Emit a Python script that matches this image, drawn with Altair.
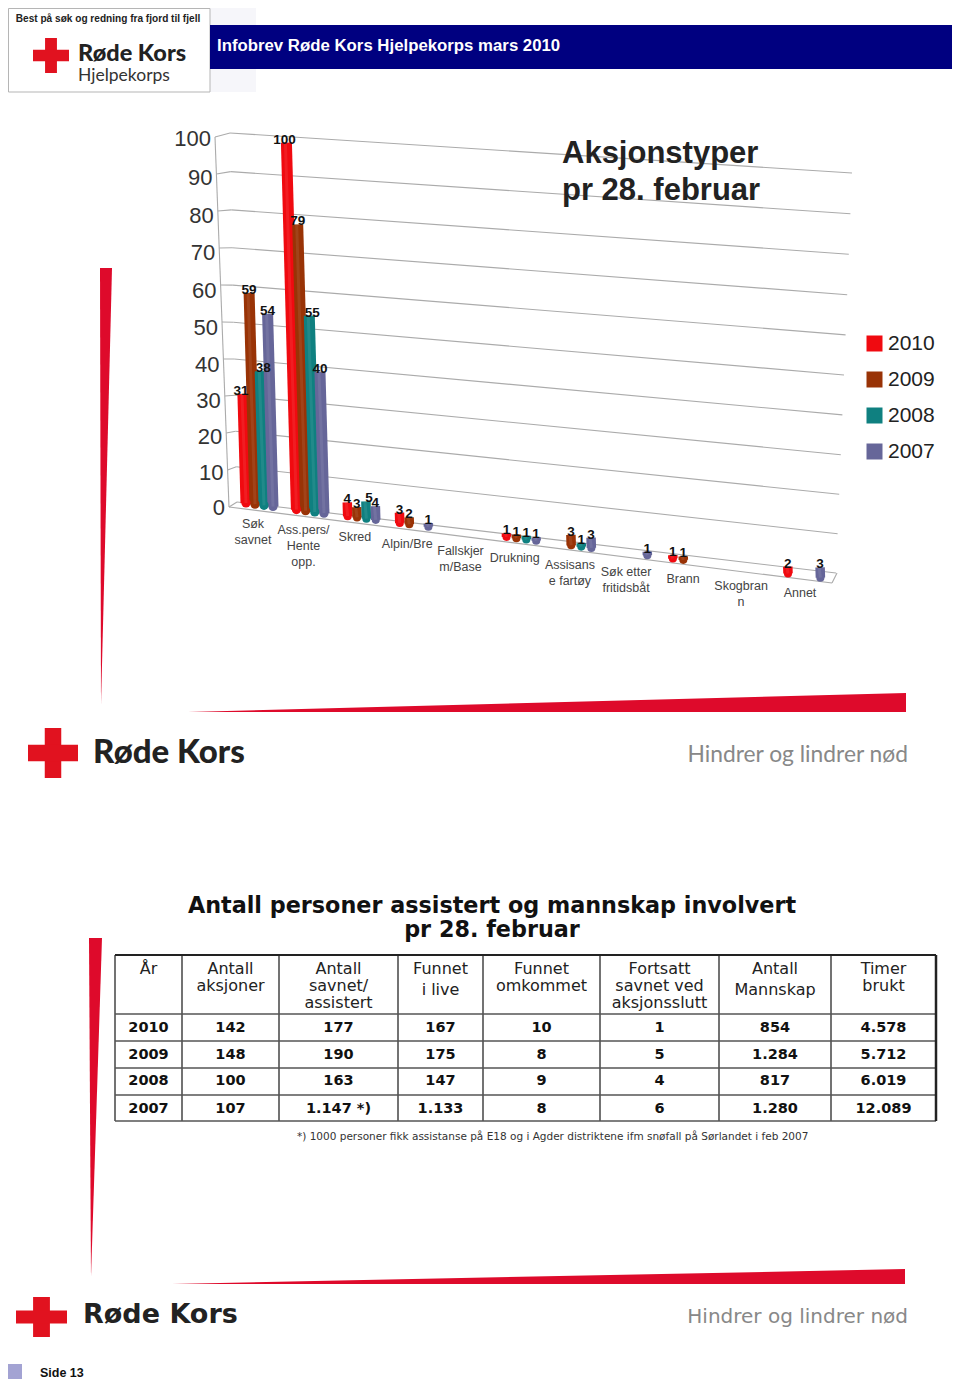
import altair as alt
import pandas as pd

# ---- chart data
categories = ["Søk\nsavnet", "Ass.pers/\nHente\nopp.", "Skred", "Alpin/Bre", "Fallskjer\nm/Base", "Drukning",
              "Assisans\ne fartøy", "Søk etter\nfritidsbåt", "Brann", "Skogbran\nn", "Annet"]
years = ["2010", "2009", "2008", "2007"]
v2010 = [31, 100, 4, 3, None, 1, None, None, 1, None, 2]
v2009 = [59, 79, 3, 2, None, 1, 3, None, 1, None, None]
v2008 = [38, 55, 5, None, None, 1, 1, None, None, None, None]
v2007 = [54, 40, 4, 1, None, 1, 3, 1, None, None, 3]
series_colors = ["#F00A10", "#993306", "#0F8080", "#666699"]
y_ticks = [0, 10, 20, 30, 40, 50, 60, 70, 80, 90, 100]

# ---- table data
table_head = [["År"], ["Antall", "aksjoner"], ["Antall", "savnet/", "assistert"], ["Funnet", "i live"],
              ["Funnet", "omkommet"], ["Fortsatt", "savnet ved", "aksjonsslutt"], ["Antall", "Mannskap"], ["Timer", "brukt"]]
table_rows = [
    ["2010", "142", "177", "167", "10", "1", "854", "4.578"],
    ["2009", "148", "190", "175", "8", "5", "1.284", "5.712"],
    ["2008", "100", "163", "147", "9", "4", "817", "6.019"],
    ["2007", "107", "1.147 *)", "1.133", "8", "6", "1.280", "12.089"],
]
col_edges = [115, 182, 279, 398, 483, 600, 719, 831, 936]
row_edges = [955, 1014, 1041, 1068, 1095, 1121]
row_centers = [1028, 1055, 1081, 1109]
footnote = "*) 1000 personer fikk assistanse på E18 og i Agder distriktene ifm snøfall på Sørlandet i feb 2007"

W, H = 944, 1371
xs = alt.Scale(domain=[8, 952], range=[0, W], nice=False, zero=False)
ys = alt.Scale(domain=[8, 1379], range=[0, H], nice=False, zero=False)
X = alt.X("x:Q", scale=xs, axis=None)
Y = alt.Y("y:Q", scale=ys, axis=None)
X2 = alt.X2("x2:Q")
Y2 = alt.Y2("y2:Q")


def text_layer(rows, **mark):
    df = pd.DataFrame(rows, columns=["x", "y", "t"])
    return alt.Chart(df).mark_text(**mark).encode(x=X, y=Y, text="t:N")


def rect_layer(rows, color, **mark):
    df = pd.DataFrame(rows, columns=["x", "x2", "y", "y2"])
    return alt.Chart(df).mark_rect(color=color, **mark).encode(x=X, x2=X2, y=Y, y2=Y2)


def rule_layer(rows, color, width):
    df = pd.DataFrame(rows, columns=["x", "y", "x2", "y2"])
    return alt.Chart(df).mark_rule(color=color, strokeWidth=width).encode(x=X, y=Y, x2=X2, y2=Y2)


def cross(x0, x1, y0, y1, color="#E1121F"):
    cx, cy = (x0 + x1) / 2, (y0 + y1) / 2
    tx, ty = (x1 - x0) * 0.165, (y1 - y0) * 0.165
    return rect_layer([[cx - tx, cx + tx, y0, y1], [x0, x1, cy - ty, cy + ty]], color)


def wedge_h(tip_x, right_x, y_top, y_bot):
    df = pd.DataFrame({"x": [tip_x, right_x], "y": [y_bot, y_top], "y2": [y_bot, y_bot]})
    return alt.Chart(df).mark_area(color="#DE0A2B", orient="vertical").encode(x=X, y=Y, y2=Y2)


def wedge_v(y_top, y_tip, x0, x1, x_tip):
    df = pd.DataFrame({"y": [y_top, y_tip], "x": [x0, x_tip], "x2": [x1, x_tip]})
    return alt.Chart(df).mark_area(color="#DE0A2B", orient="horizontal").encode(y=Y, x=X, x2=X2)


# ---- 3-D projection of the Excel chart
def gridline_rows():
    rows = []
    for v in y_ticks:
        lx, ly = 229 - 0.14 * v, 507 - 3.7 * v
        bx, by = 237 - 0.07 * v, 502 - 3.5 * v - 0.0019 * v * v
        rx, ry = 836 + 0.16 * v, 573 - 3.92 * v - 0.0008 * v * v
        rows += [[lx, ly, bx, by], [bx, by, rx, ry]]
    rows.append([lx, ly, 229, 507])
    rows += [[229, 507, 832, 583], [832, 583, 837, 573]]
    return rows


records = []
label_nudge = [-2, 0, 3, 0]
for s, (year, vals) in enumerate(zip(years, [v2010, v2009, v2008, v2007])):
    for g, v in enumerate(vals):
        if v is None:
            continue
        bx = 246 + 50 * g + 0.42 * g * g + s * (9 + 0.18 * g)
        by = 503 + (bx - 246) * 0.13
        tx, ty = bx - 0.1 * v, by - (3.45 * v + 0.0022 * v * v)
        nudge = label_nudge[s] if v >= 5 else 0
        records.append({"year": year, "v": v, "x": tx, "y": ty, "x2": bx, "y2": by,
                        "lx": tx + nudge, "ly": ty - 3, "w": 11 if g < 2 else 9.5, "f": 85 if g < 2 else 66})
bars = pd.DataFrame(records)
color_scale = alt.Scale(domain=years, range=series_colors)

bar_rules = alt.Chart(bars).mark_rule(strokeCap="butt").encode(
    x=X, y=Y, x2=X2, y2=Y2, color=alt.Color("year:N", scale=color_scale, legend=None),
    strokeWidth=alt.StrokeWidth("w:Q", scale=None, legend=None))
bar_shine = alt.Chart(bars).mark_rule(strokeWidth=3, color="#ffffff", opacity=0.08, xOffset=-1).encode(
    x=X, y=Y, x2=X2, y2=Y2)
bar_feet = alt.Chart(bars).mark_point(filled=True, shape="circle", opacity=1).encode(
    x=alt.X("x2:Q", scale=xs, axis=None), y=alt.Y("y2:Q", scale=ys, axis=None),
    size=alt.Size("f:Q", scale=None, legend=None),
    color=alt.Color("year:N", scale=color_scale,
                    legend=alt.Legend(orient="none", legendX=856, legendY=325, title=None, symbolType="square",
                                      symbolSize=256, labelFontSize=21, labelColor="#222", labelFont="Liberation Sans",
                                      rowPadding=14, labelOffset=3, symbolStrokeWidth=0, symbolOpacity=1)))
bar_labels = alt.Chart(bars).mark_text(font="Liberation Sans", fontSize=13.5, fontWeight="bold", color="#111",
                                       baseline="middle").encode(
    x=alt.X("lx:Q", scale=xs, axis=None), y=alt.Y("ly:Q", scale=ys, axis=None), text="v:Q")

grid = rule_layer(gridline_rows(), "#ababab", 1.1)
tick_labels = text_layer([[225 - 0.14 * v, 508 - 3.51 * v - 0.0018 * v * v, str(v)] for v in y_ticks],
                         font="Liberation Sans", fontSize=22, color="#333", align="right", baseline="middle")
cat_labels = text_layer([[253 + 50 * g + 0.47 * g * g, 517.5 + 6.9 * g, c] for g, c in enumerate(categories)],
                        font="Liberation Sans", fontSize=12.5, color="#444", align="center", baseline="top",
                        lineBreak="\n", lineHeight=16)
chart_title = text_layer([[562, 163, "Aksjonstyper"], [562, 200, "pr 28. februar"]],
                         font="Liberation Sans", fontSize=31, fontWeight="bold", color="#222", align="left",
                         baseline="alphabetic")

# ---- page furniture
header = [
    rect_layer([[210, 256, 8, 92]], "#f6f6fa"),
    rect_layer([[8.5, 210, 8.5, 92]], "#ffffff", stroke="#b5b5b5", strokeWidth=1),
    rect_layer([[210, 952, 25, 69]], "#000080"),
    text_layer([[108, 18.5, "Best på søk og redning fra fjord til fjell"]], font="Liberation Sans", fontSize=10.1,
               fontWeight="bold", color="#222", align="center", baseline="middle"),
    cross(33, 69, 38, 73),
    text_layer([[78, 61, "Røde Kors"]], font="Lato", fontSize=23.5, fontWeight=900, color="#222", align="left",
               baseline="alphabetic"),
    text_layer([[78, 81, "Hjelpekorps"]], font="Lato", fontSize=17.5, color="#333", align="left",
               baseline="alphabetic"),
    text_layer([[217, 46, "Infobrev Røde Kors Hjelpekorps mars 2010"]], font="Liberation Sans", fontSize=16.8,
               fontWeight="bold", color="#ffffff", align="left", baseline="middle"),
]
footer1 = [
    wedge_v(268, 705, 100, 112, 101),
    wedge_h(188, 906, 693, 712),
    cross(28, 78, 728, 778),
    text_layer([[93, 763, "Røde Kors"]], font="Lato", fontSize=33, fontWeight=900, color="#222", align="left",
               baseline="alphabetic"),
    text_layer([[908, 762, "Hindrer og lindrer nød"]], font="Lato", fontSize=22.8, color="#888", align="right",
               baseline="alphabetic"),
]
footer2 = [
    wedge_v(938, 1277, 89, 102, 91),
    wedge_h(172, 905, 1269, 1284),
    cross(16, 67, 1297, 1337),
    text_layer([[83, 1323, "Røde Kors"]], font="DejaVu Sans", fontSize=27, fontWeight="bold", color="#222",
               align="left", baseline="alphabetic"),
    text_layer([[908, 1323, "Hindrer og lindrer nød"]], font="DejaVu Sans", fontSize=20, color="#888", align="right",
               baseline="alphabetic"),
    rect_layer([[8, 22, 1364, 1379]], "#A3A3D3"),
    text_layer([[40, 1373, "Side 13"]], font="Liberation Sans", fontSize=12.5, fontWeight="bold", color="#111",
               align="left", baseline="middle"),
]

# ---- table
centers = [(a + b) / 2 for a, b in zip(col_edges[:-1], col_edges[1:])]
head_rows = []
for c, lines in zip(centers, table_head):
    for i, line in enumerate(lines):
        yy = 969 + 17 * i
        if line in ("i live", "Mannskap"):
            yy = 990
        head_rows.append([c, yy, line])
body_rows = [[c, yy, cell] for yy, row in zip(row_centers, table_rows) for c, cell in zip(centers, row)]
table = [
    rule_layer([[x, row_edges[0], x, row_edges[-1]] for x in col_edges[:-1]], "#444", 1.5),
    rule_layer([[col_edges[0], y, col_edges[-1], y] for y in row_edges[1:]], "#555", 1.4),
    rule_layer([[col_edges[0], row_edges[0], col_edges[-1], row_edges[0]]], "#222", 2),
    rule_layer([[col_edges[-1], row_edges[0], col_edges[-1], row_edges[-1]]], "#222", 2.5),
    text_layer([[492, 906, "Antall personer assistert og mannskap involvert"], [492, 930, "pr 28. februar"]],
               font="DejaVu Sans", fontSize=22.3, fontWeight="bold", color="#111", align="center", baseline="middle"),
    text_layer(head_rows, font="DejaVu Sans", fontSize=16, color="#222", align="center", baseline="middle"),
    text_layer(body_rows, font="DejaVu Sans", fontSize=14.5, fontWeight="bold", color="#111", align="center",
               baseline="middle"),
    text_layer([[297, 1137, footnote]], font="DejaVu Sans", fontSize=10.5, color="#333", align="left",
               baseline="middle"),
]

layers = (header + [grid, tick_labels, cat_labels, bar_rules, bar_feet, bar_shine, bar_labels, chart_title]
          + footer1 + table + footer2)
chart = alt.layer(*layers).resolve_scale(color="independent").properties(
    width=W, height=H, padding=0, autosize=alt.AutoSizeParams(type="none"), background="#ffffff"
).configure_view(stroke=None)
chart.save("out.html", embed_options={"renderer": "svg", "actions": False})
